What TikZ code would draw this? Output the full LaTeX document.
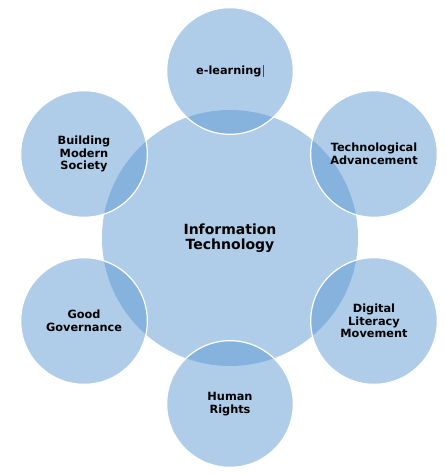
\documentclass[tikz,border=0pt]{standalone}
\usepackage{fontspec}
\setmainfont{DejaVu Sans}
\usetikzlibrary{positioning}
\definecolor{ringblue}{RGB}{87,150,209}
\tikzset{
  hub/.style={circle, minimum size=192pt, inner sep=0pt, fill=ringblue, fill opacity=0.475, text opacity=1, align=center, font=\bfseries\fontsize{10.5}{10.8}\selectfont},
  sat/.style={circle, minimum size=95pt, inner sep=0pt, fill=ringblue, fill opacity=0.475, draw=white, draw opacity=1, line width=0.9pt, text opacity=1, align=center, font=\bfseries\fontsize{8.5}{9.5}\selectfont}
}

\begin{document}
\begin{tikzpicture}[x=0.75pt,y=-0.75pt]
  \useasboundingbox (0,0) rectangle (445,474);
  \node[hub] (it) at (230,238) {Information\\Technology};

  \node[sat] (elearn) at ([shift={(0,-167)}]it.center) {e-learning\,{\color{black!70}\rule[-1.5pt]{0.4pt}{9pt}}};
  \node[sat] (techadv) at ([shift={(144,-84)}]it.center) {Technological\\Advancement};
  \node[sat] (digit) at ([shift={(144,83)}]it.center) {Digital\\Literacy\\Movement};
  \node[sat] (human) at ([shift={(0,166)}]it.center) {Human\\Rights};
  \node[sat] (govern) at ([shift={(-146,83)}]it.center) {Good\\Governance};
  \node[sat] (society) at ([shift={(-146,-84)}]it.center) {Building\\Modern\\Society};
\end{tikzpicture}
\end{document}
